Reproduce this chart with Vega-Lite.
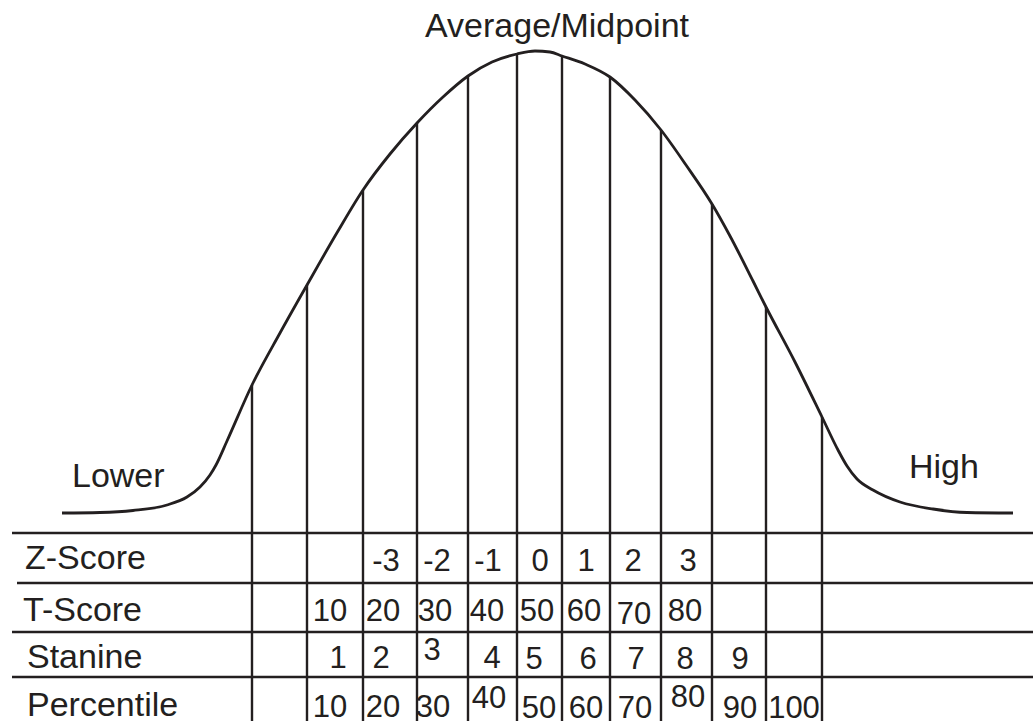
{
  "$schema": "https://vega.github.io/schema/vega-lite/v6.json",
  "width": 1033,
  "height": 721,
  "padding": 0,
  "autosize": {"type": "none"},
  "background": "white",
  "config": {"view": {"stroke": null}},
  "layer": [
    {
      "data": {"values": [
        {"px": 62, "py": 513}, {"px": 100, "py": 512.5}, {"px": 133, "py": 510.5}, {"px": 167, "py": 505},
        {"px": 187, "py": 497}, {"px": 200, "py": 487}, {"px": 210, "py": 475}, {"px": 216, "py": 465},
        {"px": 227, "py": 441}, {"px": 252, "py": 385}, {"px": 280, "py": 333}, {"px": 307, "py": 285},
        {"px": 338, "py": 231}, {"px": 363, "py": 190}, {"px": 390, "py": 154}, {"px": 417, "py": 123},
        {"px": 443, "py": 97}, {"px": 468, "py": 76}, {"px": 492, "py": 62}, {"px": 517, "py": 54},
        {"px": 535, "py": 51}, {"px": 550, "py": 52}, {"px": 562, "py": 56}, {"px": 585, "py": 64},
        {"px": 610, "py": 77}, {"px": 635, "py": 100}, {"px": 661, "py": 130}, {"px": 686, "py": 165},
        {"px": 712, "py": 204}, {"px": 730, "py": 236}, {"px": 753, "py": 281}, {"px": 766, "py": 307},
        {"px": 795, "py": 362}, {"px": 822, "py": 417}, {"px": 838, "py": 450}, {"px": 847, "py": 466},
        {"px": 857, "py": 479}, {"px": 873, "py": 490}, {"px": 900, "py": 502}, {"px": 933, "py": 509},
        {"px": 967, "py": 512.5}, {"px": 1013, "py": 513}
      ]},
      "mark": {"type": "line", "interpolate": "monotone", "color": "#231f20", "strokeWidth": 2.8},
      "encoding": {
        "x": {"field": "px", "type": "quantitative", "scale": {"domain": [0, 1033], "nice": false, "zero": false}, "axis": null},
        "y": {"field": "py", "type": "quantitative", "scale": {"domain": [0, 721], "nice": false, "zero": false, "reverse": true}, "axis": null}
      }
    },
    {
      "data": {"values": [
        {"px": 252, "top": 385}, {"px": 307, "top": 285}, {"px": 363, "top": 190}, {"px": 417, "top": 123},
        {"px": 468, "top": 76}, {"px": 517, "top": 54}, {"px": 562, "top": 56}, {"px": 610, "top": 77},
        {"px": 661, "top": 130}, {"px": 712, "top": 204}, {"px": 766, "top": 307}, {"px": 822, "top": 417}
      ]},
      "mark": {"type": "rule", "color": "#231f20", "strokeWidth": 2.4},
      "encoding": {
        "x": {"field": "px", "type": "quantitative"},
        "y": {"field": "top", "type": "quantitative"},
        "y2": {"datum": 721}
      }
    },
    {
      "data": {"values": [
        {"x1": 12, "x2": 1033, "py": 533}, {"x1": 17, "x2": 1033, "py": 583},
        {"x1": 12, "x2": 1033, "py": 632}, {"x1": 12, "x2": 1033, "py": 677}
      ]},
      "mark": {"type": "rule", "color": "#231f20", "strokeWidth": 2.6},
      "encoding": {
        "x": {"field": "x1", "type": "quantitative"},
        "x2": {"field": "x2"},
        "y": {"field": "py", "type": "quantitative"}
      }
    },
    {
      "data": {"values": [
        {"px": 25, "py": 569, "t": "Z-Score"}, {"px": 23, "py": 621, "t": "T-Score"},
        {"px": 27, "py": 668, "t": "Stanine"}, {"px": 27, "py": 716, "t": "Percentile"},
        {"px": 72, "py": 487, "t": "Lower"}, {"px": 909, "py": 478, "t": "High"}
      ]},
      "mark": {"type": "text", "align": "left", "baseline": "alphabetic", "font": "Liberation Sans", "fontSize": 34, "color": "#231f20"},
      "encoding": {
        "x": {"field": "px", "type": "quantitative"},
        "y": {"field": "py", "type": "quantitative"},
        "text": {"field": "t"}
      }
    },
    {
      "data": {"values": [
        {"px": 557, "py": 37, "t": "Average/Midpoint"}
      ]},
      "mark": {"type": "text", "align": "center", "baseline": "alphabetic", "font": "Liberation Sans", "fontSize": 34, "color": "#231f20"},
      "encoding": {
        "x": {"field": "px", "type": "quantitative"},
        "y": {"field": "py", "type": "quantitative"},
        "text": {"field": "t"}
      }
    },
    {
      "data": {"values": [
        {"px": 386, "py": 571, "t": "-3"}, {"px": 437, "py": 571, "t": "-2"}, {"px": 488, "py": 571, "t": "-1"},
        {"px": 540, "py": 571, "t": "0"}, {"px": 586, "py": 571, "t": "1"}, {"px": 633, "py": 571, "t": "2"},
        {"px": 688, "py": 571, "t": "3"},
        {"px": 330, "py": 621, "t": "10"}, {"px": 383, "py": 621, "t": "20"}, {"px": 435, "py": 621, "t": "30"},
        {"px": 487, "py": 621, "t": "40"}, {"px": 537, "py": 621, "t": "50"}, {"px": 584, "py": 621, "t": "60"},
        {"px": 634, "py": 624, "t": "70"}, {"px": 685, "py": 621, "t": "80"},
        {"px": 338, "py": 668, "t": "1"}, {"px": 381, "py": 668, "t": "2"}, {"px": 432, "py": 660, "t": "3"},
        {"px": 492, "py": 668, "t": "4"}, {"px": 534, "py": 669, "t": "5"}, {"px": 588, "py": 669, "t": "6"},
        {"px": 636, "py": 669, "t": "7"}, {"px": 685, "py": 669, "t": "8"}, {"px": 740, "py": 669, "t": "9"},
        {"px": 330, "py": 717, "t": "10"}, {"px": 383, "py": 717, "t": "20"}, {"px": 433, "py": 717, "t": "30"},
        {"px": 489, "py": 708, "t": "40"}, {"px": 539, "py": 718, "t": "50"}, {"px": 586, "py": 718, "t": "60"},
        {"px": 635, "py": 718, "t": "70"}, {"px": 688, "py": 707, "t": "80"}, {"px": 740, "py": 718, "t": "90"},
        {"px": 794, "py": 718, "t": "100"}
      ]},
      "mark": {"type": "text", "align": "center", "baseline": "alphabetic", "font": "Liberation Sans", "fontSize": 31, "color": "#231f20"},
      "encoding": {
        "x": {"field": "px", "type": "quantitative"},
        "y": {"field": "py", "type": "quantitative"},
        "text": {"field": "t"}
      }
    }
  ]
}
